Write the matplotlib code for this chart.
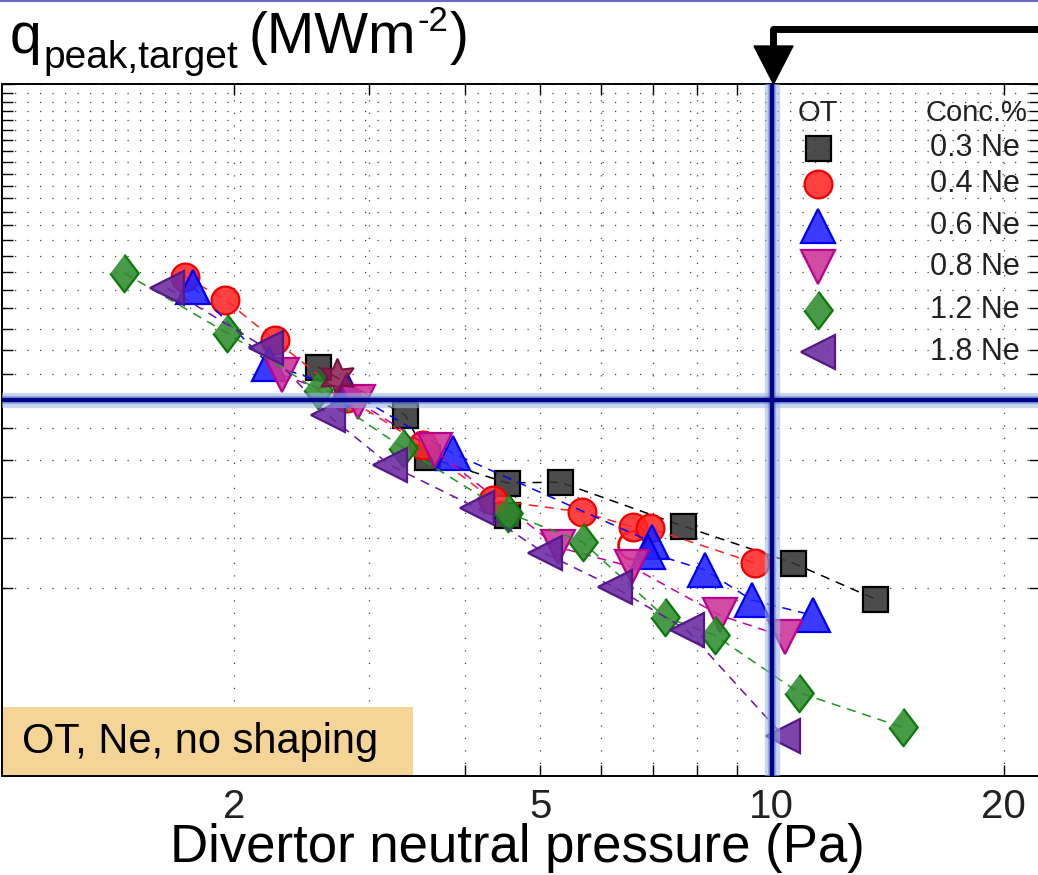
import numpy as np, matplotlib as mpl
mpl.use("Agg"); import matplotlib.pyplot as plt
from matplotlib.colors import to_rgba
from matplotlib.lines import Line2D
from matplotlib.patches import Polygon, Rectangle

mpl.rcParams.update({"font.family": ["Liberation Sans", "DejaVu Sans"]})

# ---- data: divertor pressure (Pa) vs q_peak (MW/m2) ----
p_03 = [2.57, 3.34, 3.57, 4.53, 5.31, 7.66, 10.65, 13.61]
q_03 = [11.28, 9.45, 8.09, 7.36, 7.38, 6.28, 5.48, 4.80]
p_04 = [1.73, 1.95, 2.26, 2.81, 3.52, 4.34, 5.67, 6.60, 6.94, 9.50]
q_04 = [15.73, 14.44, 12.46, 10.06, 8.46, 6.91, 6.61, 6.26, 6.23, 5.48]
p_06 = [1.77, 2.22, 2.81, 3.85, 6.98, 6.90, 8.19, 9.42, 11.30]
q_06 = [15.16, 11.40, 10.36, 8.21, 5.92, 5.70, 5.34, 4.78, 4.52]
p_08 = [2.31, 2.90, 3.65, 5.27, 6.58, 8.56, 10.40]
q_08 = [10.95, 9.92, 8.30, 5.81, 5.40, 4.52, 4.17]
p_12 = [1.44, 1.96, 2.57, 3.32, 4.54, 5.68, 7.26, 8.43, 10.84, 14.80]
q_12 = [15.96, 12.79, 10.36, 8.37, 6.59, 5.92, 4.49, 4.20, 3.40, 2.99]
p_18 = [1.64, 2.20, 2.65, 3.19, 4.14, 5.07, 6.25, 7.76, 10.34]
q_18 = [15.09, 12.10, 9.45, 7.86, 6.71, 5.68, 5.01, 4.28, 2.90]
# stray points
p_blk_extra, q_blk_extra = [4.53], [6.54]
p_red_open, q_red_open = [6.58], [5.85]
p_star, q_star = [2.72], [10.87]

labels = ["0.3 Ne", "0.4 Ne", "0.6 Ne", "0.8 Ne", "1.2 Ne", "1.8 Ne"]
xtick_vals = [2, 3, 4, 5, 6, 7, 8, 9, 10, 20]
xtick_lbls = ["2", "", "", "5", "", "", "", "", "10", "20"]
ytick_vals = list(range(5, 33))
p_target, q_target = 10, 10

diamond = [(0, 1), (0.76, 0), (0, -1), (-0.76, 0)]
styles = [  # marker, size, face, edge, line
    ("s", 18, "#333333", "#000000", "#000000"),
    ("o", 20, "#FF2626", "#F00000", "#FF2020"),
    ("^", 25, "#2020FF", "#0000F0", "#0000FF"),
    ("v", 25, "#CC3399", "#B8008A", "#CC0099"),
    (diamond, 27, "#2E8B2E", "#087A08", "#1E961E"),
    ("<", 25, "#6A2AA0", "#55168C", "#6A10B0"),
]
series = [(p_03, q_03), (p_04, q_04), (p_06, q_06), (p_08, q_08), (p_12, q_12), (p_18, q_18)]

W, H = 1038, 875
fig = plt.figure(figsize=(W/100, H/100), dpi=100)
ax = fig.add_axes([2/W, 99/H, 1038/W, 692/H])
ax.set_xscale("log"); ax.set_yscale("log")
ax.set_xlim(1, 22.3); ax.set_ylim(2.5, 32)

ax.set_xticks(xtick_vals); ax.set_xticklabels(xtick_lbls)
ax.set_yticks(ytick_vals); ax.set_yticklabels([])
ax.minorticks_off()
ax.tick_params(axis="both", direction="in", length=8, width=1.0, top=True, right=True, pad=9)
ax.tick_params(axis="x", labelsize=29, labelcolor="#222222")
ax.grid(True, which="major", ls=(0, (1, 9)), lw=0.9, color="#444444")
for s in ax.spines.values(): s.set_linewidth(1.4)

def draw(px, qx, st, z):
    m, ms, fc, ec, lc = st
    ax.plot(px, qx, ls=(0, (6, 4.5)), lw=1.1, color=lc, zorder=z)
    ax.plot(px, qx, ls="none", marker=m, ms=ms, mfc=to_rgba(fc, 0.88), mec=ec, mew=1.6, zorder=z + 0.5)

for i, ((px, qx), st) in enumerate(zip(series, styles)):
    if i == 1:
        ax.plot(p_red_open, q_red_open, ls="none", marker="o", ms=20, mfc="none", mec="#F00000", mew=2, zorder=3)
    draw(px, qx, st, 3 + i)
    if i == 0:
        ax.plot(p_blk_extra, q_blk_extra, ls="none", marker="s", ms=18, mfc=to_rgba("#333333", 0.88),
                mec="#000000", mew=1.6, zorder=3.5)
ax.plot(p_star, q_star, ls="none", marker=(6, 1, 0), ms=27, mfc=to_rgba("#8B1A4F", 0.85), mec="#7A1040",
        mew=1.4, zorder=10)

# target lines with glow
for lw, c, a in [(11, "#9DB8E0", 0.55), (6, "#5A7FC8", 0.5), (3.2, "#000088", 1)]:
    ax.axvline(p_target, lw=lw, color=c, alpha=a, zorder=12)
    ax.axhline(q_target, lw=lw, color=c, alpha=a, zorder=12)

# legend drawn by hand
T = lambda x, y: (x / W, 1 - y / H)
fig.text(*T(818, 113), "OT", fontsize=21, ha="center", va="center", color="#222222")
fig.text(*T(1027, 113), "Conc.%", fontsize=21, ha="right", va="center", color="#222222")
for lab, st, yy in zip(labels, styles, [148, 184, 226, 267, 310, 352]):
    m, ms, fc, ec, lc = st
    fig.add_artist(Line2D([818 / W], [1 - yy / H], ls="none", marker=m, ms=ms,
                          mfc=to_rgba(fc, 0.88), mec=ec, mew=1.6))
    fig.text(*T(1020, yy), lab, fontsize=22, ha="right", va="center", color="#222222")

# condition box
fig.add_artist(Rectangle(T(3, 775), 410 / W, 68 / H, fc="#F4D597", ec="none", zorder=20))
fig.text(*T(22, 742), "OT, Ne, no shaping", fontsize=30, ha="left", va="center", zorder=21)

# y label written piece by piece at the top left
r = fig.canvas.get_renderer()
fig.text(*T(10, 53), "q", fontsize=41, va="baseline")
fig.text(*T(43, 68), "peak,target", fontsize=28, va="baseline")
t = fig.text(*T(249, 53), "(MWm", fontsize=41, va="baseline")
x1 = t.get_window_extent(r).x1 + 1
t = fig.text(x1 / W, 1 - 31 / H, "-2", fontsize=25, va="baseline")
x1 = t.get_window_extent(r).x1 + 1
fig.text(x1 / W, 1 - 53 / H, ")", fontsize=41, va="baseline")

fig.text(*T(517, 862), "Divertor neutral pressure (Pa)", fontsize=38, ha="center", va="baseline")

# arrow pointing down at the target pressure
fig.add_artist(Line2D([1040 / W, 773 / W, 773 / W], [1 - 29 / H, 1 - 29 / H, 1 - 50 / H],
                      lw=5, color="black", solid_joinstyle="round", solid_capstyle="butt"))
fig.add_artist(Polygon([T(754, 46), T(793, 46), T(773.5, 84)], closed=True, fc="black", ec="black"))
fig.add_artist(Line2D([0, 1], [1 - 0.8 / H, 1 - 0.8 / H], lw=1.5, color="#6A6AC8"))

fig.savefig("out.png", dpi=100)
